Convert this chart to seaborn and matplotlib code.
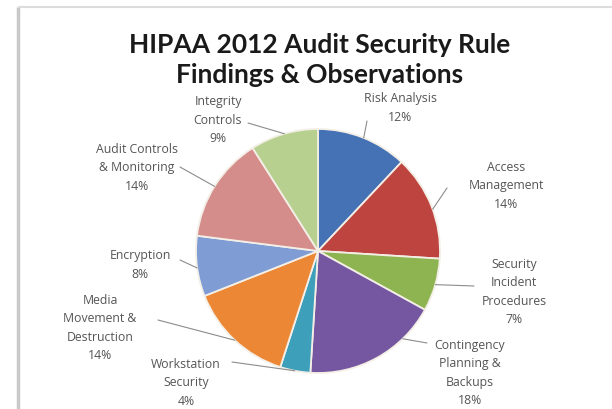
import matplotlib
matplotlib.use("Agg")
import matplotlib.pyplot as plt
import seaborn as sns
import numpy as np

# ---- data ----
categories = ["Risk Analysis", "Access Management", "Security Incident Procedures",
              "Contingency Planning & Backups", "Workstation Security",
              "Media Movement & Destruction", "Encryption",
              "Audit Controls & Monitoring", "Integrity Controls"]
label_texts = ["Risk Analysis", "Access\nManagement", "Security\nIncident\nProcedures",
               "Contingency\nPlanning &\nBackups", "Workstation\nSecurity",
               "Media\nMovement &\nDestruction", "Encryption",
               "Audit Controls\n& Monitoring", "Integrity\nControls"]
percentages = [12, 14, 7, 18, 4, 14, 8, 14, 9]
colors = ["#4472B4", "#BE4440", "#8DB450", "#7556A0", "#3E9FBB",
          "#EC8735", "#7F9CD4", "#D58D8C", "#B7D090"]

# ---- layout (pixels, y from top) ----
W, H = 612, 410
CX, CY, R = 318, 252, 122
text_pos = [(400, 108), (506, 186), (514, 292), (470, 373), (186, 383),
            (100, 328), (140, 265), (137, 168), (218, 120)]
leader_start = [(367, 122), (447, 189), (474, 287), (427, 344), (232, 363),
                (158, 321), (180, 261), (180, 168), (248, 124)]
leader_angle = [68, 20, -16, -46, -101, -133, -172, 148, 106]

sns.set_theme(style="white")
plt.rcParams["font.family"] = ["Open Sans", "DejaVu Sans"]

fig = plt.figure(figsize=(W / 100, H / 100), dpi=100)
ax = fig.add_axes([0, 0, 1, 1])

wedges, _ = ax.pie(percentages, colors=colors, startangle=90, counterclock=False,
                   center=(CX, H - CY), radius=R,
                   wedgeprops=dict(edgecolor="#F4EFE6", linewidth=1.3))
ax.set_xlim(0, W)
ax.set_ylim(0, H)
ax.set_aspect("equal")
ax.axis("off")

txt_color = "#555555"
for lab, pct, (tx, ty), (sx, sy), ang in zip(label_texts, percentages, text_pos,
                                             leader_start, leader_angle):
    ax.text(tx, H - ty, f"{lab}\n{pct}%", ha="center", va="center",
            multialignment="center", fontsize=8.8, color=txt_color, linespacing=1.55)
    ex = CX + R * np.cos(np.radians(ang))
    ey = (H - CY) + R * np.sin(np.radians(ang))
    ax.plot([sx, ex], [H - sy, ey], color="#8c8c8c", lw=0.8)

# title
fig.text(320 / W, 1 - 45 / H, "HIPAA 2012 Audit Security Rule", ha="center", va="center",
         fontsize=19, fontweight="bold", color="#1a1a1a", family=["Lato", "DejaVu Sans"])
fig.text(320 / W, 1 - 75 / H, "Findings & Observations", ha="center", va="center",
         fontsize=19, fontweight="bold", color="#1a1a1a", family=["Lato", "DejaVu Sans"])

# slide frame lines
ax.plot([18, 18], [0, H - 8], color="#c8c8c8", lw=2.5, solid_capstyle="butt")
ax.plot([18, W], [H - 8, H - 8], color="#dcdcdc", lw=1.5, solid_capstyle="butt")

fig.savefig("out.png", dpi=100, facecolor="white")
